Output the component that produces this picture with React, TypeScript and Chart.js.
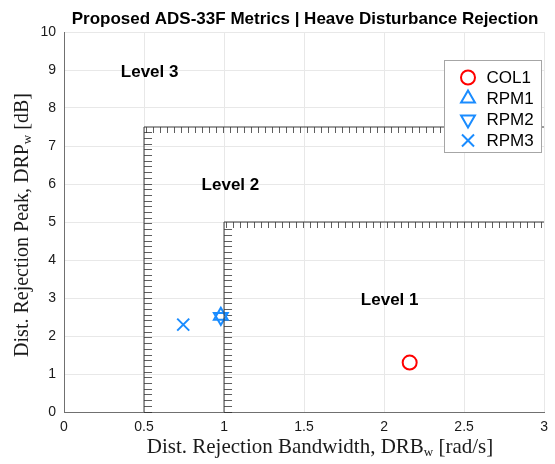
import { useEffect, useRef } from 'react';
import { Chart, registerables } from 'chart.js';

Chart.register(...registerables);

// ---- data ----
const titleText = 'Proposed ADS-33F Metrics | Heave Disturbance Rejection';
const xTitleMain = 'Dist. Rejection Bandwidth, DRB';
const xTitleSub = 'w';
const xTitleTail = ' [rad/s]';
const yTitleMain = 'Dist. Rejection Peak, DRP';
const yTitleSub = 'w';
const yTitleTail = ' [dB]';

const xMin = 0;
const xMax = 3;
const xStep = 0.5;
const yMin = 0;
const yMax = 10;
const yStep = 1;

const seriesNames = ['COL1', 'RPM1', 'RPM2', 'RPM3'];
const seriesX = [2.16, 0.98, 0.98, 0.745];
const seriesY = [1.3, 2.53, 2.5, 2.3];
const seriesColors = ['#ff0000', '#1a8cff', '#1a8cff', '#1a8cff'];
const seriesStyles = ['circle', 'triangle', 'triangle', 'crossRot'];
const seriesRotation = [0, 0, 180, 0];
const seriesRadius = [7, 8, 8, 8.5];

// Level boundaries (data coords)
const level2BoundX = [0.5, 0.5, 3];
const level2BoundY = [0, 7.5, 7.5];
const level1BoundX = [1, 1, 3];
const level1BoundY = [0, 5, 5];

const levelLabels = ['Level 3', 'Level 2', 'Level 1'];
const levelLabelX = [0.535, 1.04, 2.035];
const levelLabelY = [8.95, 5.97, 2.95];

const W = 555;
const H = 464;

function drawMarker(ctx: CanvasRenderingContext2D, style: string, x: number, y: number, r: number, rot: number) {
  ctx.beginPath();
  if (style === 'circle') {
    ctx.arc(x, y, r, 0, Math.PI * 2);
  } else if (style === 'triangle') {
    let rad = (rot * Math.PI) / 180;
    ctx.moveTo(x + Math.sin(rad) * r, y - Math.cos(rad) * r);
    rad += (2 * Math.PI) / 3;
    ctx.lineTo(x + Math.sin(rad) * r, y - Math.cos(rad) * r);
    rad += (2 * Math.PI) / 3;
    ctx.lineTo(x + Math.sin(rad) * r, y - Math.cos(rad) * r);
    ctx.closePath();
  } else if (style === 'crossRot') {
    const o = Math.cos(Math.PI / 4) * r;
    ctx.moveTo(x - o, y - o);
    ctx.lineTo(x + o, y + o);
    ctx.moveTo(x - o, y + o);
    ctx.lineTo(x + o, y - o);
  }
  ctx.stroke();
}

function drawSubText(
  ctx: CanvasRenderingContext2D,
  main: string,
  sub: string,
  tail: string,
  font: string,
  subFont: string,
  cx: number,
  cy: number,
) {
  ctx.font = font;
  const w1 = ctx.measureText(main).width;
  const w3 = ctx.measureText(tail).width;
  ctx.font = subFont;
  const w2 = ctx.measureText(sub).width;
  const total = w1 + w2 + w3;
  let x = cx - total / 2;
  ctx.textAlign = 'left';
  ctx.textBaseline = 'alphabetic';
  const base = cy + 6;
  ctx.font = font;
  ctx.fillText(main, x, base);
  x += w1;
  ctx.font = subFont;
  ctx.fillText(sub, x, base + 3);
  x += w2;
  ctx.font = font;
  ctx.fillText(tail, x, base);
}

const overlayPlugin = {
  id: 'overlay',
  beforeDatasetsDraw(chart: any) {
    const ctx: CanvasRenderingContext2D = chart.ctx;
    const xs = chart.scales.x;
    const ys = chart.scales.y;
    ctx.save();
    ctx.strokeStyle = 'rgba(40,40,40,0.75)';
    ctx.lineWidth = 1;
    const bounds = [
      [level2BoundX, level2BoundY],
      [level1BoundX, level1BoundY],
    ];
    for (const [bx, by] of bounds) {
      const px = xs.getPixelForValue(bx[0]);
      const pyBottom = ys.getPixelForValue(by[0]);
      const pyTop = ys.getPixelForValue(by[1]);
      const pxRight = xs.getPixelForValue(bx[2]);
      ctx.beginPath();
      for (let y = pyBottom - 0.5; y > pyTop + 2; y -= 5.7) {
        ctx.moveTo(px, Math.round(y) + 0.5);
        ctx.lineTo(px + 8, Math.round(y) + 0.5);
      }
      for (let x = px + 2; x < pxRight; x += 7) {
        ctx.moveTo(Math.round(x) + 0.5, pyTop);
        ctx.lineTo(Math.round(x) + 0.5, pyTop + 6);
      }
      ctx.stroke();
    }
    ctx.restore();
  },
  afterDraw(chart: any) {
    const ctx: CanvasRenderingContext2D = chart.ctx;
    const xs = chart.scales.x;
    const ys = chart.scales.y;
    const area = chart.chartArea;
    ctx.save();
    ctx.fillStyle = '#000';
    ctx.font = 'bold 17px "Liberation Sans", Arial, sans-serif';
    ctx.textAlign = 'center';
    ctx.textBaseline = 'middle';
    ctx.fillText(titleText, (area.left + area.right) / 2 + 1, 19);

    ctx.font = 'bold 17px "Liberation Sans", Arial, sans-serif';
    for (let i = 0; i < levelLabels.length; i++) {
      ctx.fillText(levelLabels[i], xs.getPixelForValue(levelLabelX[i]), ys.getPixelForValue(levelLabelY[i]));
    }

    ctx.fillStyle = '#1a1a1a';
    const xf = '21px "Liberation Serif", "Times New Roman", serif';
    const xsf = '13px "Liberation Serif", "Times New Roman", serif';
    const yf = '20px "Liberation Serif", "Times New Roman", serif';
    const ysf = '13px "Liberation Serif", "Times New Roman", serif';
    drawSubText(ctx, xTitleMain, xTitleSub, xTitleTail, xf, xsf, 320, 447);
    ctx.save();
    ctx.translate(22, 225);
    ctx.rotate(-Math.PI / 2);
    drawSubText(ctx, yTitleMain, yTitleSub, yTitleTail, yf, ysf, 0, 0);
    ctx.restore();

    const lx = 444.5;
    const ly = 60.5;
    const lw = 97;
    const lh = 92;
    ctx.fillStyle = '#ffffff';
    ctx.fillRect(lx, ly, lw, lh);
    ctx.strokeStyle = '#a6a6a6';
    ctx.lineWidth = 1;
    ctx.strokeRect(lx, ly, lw, lh);
    ctx.font = '17px "Liberation Sans", Arial, sans-serif';
    ctx.textAlign = 'left';
    ctx.textBaseline = 'middle';
    for (let i = 0; i < seriesNames.length; i++) {
      const cy = ly + 17 + i * 21;
      ctx.strokeStyle = seriesColors[i];
      ctx.lineWidth = 2;
      drawMarker(ctx, seriesStyles[i], lx + 23.5, cy, seriesRadius[i], seriesRotation[i]);
      ctx.fillStyle = '#000';
      ctx.fillText(seriesNames[i], lx + 42, cy + 1);
    }
    ctx.restore();
  },
};

export default function App() {
  const ref = useRef<HTMLCanvasElement | null>(null);
  useEffect(() => {
    document.body.style.margin = '0';
    document.body.style.overflow = 'hidden';
    const canvas = ref.current;
    if (!canvas) return;
    const boundaryDatasets = [
      [level2BoundX, level2BoundY],
      [level1BoundX, level1BoundY],
    ].map(([bx, by], k) => ({
      label: 'boundary' + k,
      data: bx.map((v, i) => ({ x: v, y: by[i] })),
      showLine: true,
      pointRadius: 0,
      borderColor: '#3a3a3a',
      borderWidth: 1,
      fill: false,
    }));
    const pointDatasets = seriesNames.map((name, i) => ({
      label: name,
      data: [{ x: seriesX[i], y: seriesY[i] }],
      pointStyle: seriesStyles[i],
      rotation: seriesRotation[i],
      pointRadius: seriesRadius[i],
      pointBorderWidth: 2,
      borderWidth: 2,
      borderColor: seriesColors[i],
      backgroundColor: 'rgba(0,0,0,0)',
      pointBackgroundColor: 'rgba(0,0,0,0)',
      showLine: false,
    }));
    const chart = new Chart(canvas, {
      type: 'scatter',
      data: { datasets: [...boundaryDatasets, ...pointDatasets] as any },
      plugins: [overlayPlugin as any],
      options: {
        animation: false,
        responsive: false,
        events: [],
        layout: { padding: { left: 0, top: 32, right: 9, bottom: 0 } },
        plugins: { legend: { display: false }, tooltip: { enabled: false }, title: { display: false } },
        scales: {
          x: {
            type: 'linear',
            min: xMin,
            max: xMax,
            afterFit: (s: any) => {
              s.height = 52;
            },
            ticks: {
              stepSize: xStep,
              padding: 7,
              color: '#1a1a1a',
              font: { family: '"Liberation Sans", Arial, sans-serif', size: 14 },
              callback: (v: any) => String(v),
            },
            grid: { color: '#e8e8e8', drawTicks: false },
            border: { display: true, color: '#707070' },
          },
          y: {
            type: 'linear',
            min: yMin,
            max: yMax,
            afterFit: (s: any) => {
              s.width = 64;
            },
            ticks: {
              stepSize: yStep,
              padding: 8,
              color: '#1a1a1a',
              font: { family: '"Liberation Sans", Arial, sans-serif', size: 14 },
              callback: (v: any) => String(v),
            },
            grid: { color: '#e8e8e8', drawTicks: false },
            border: { display: true, color: '#707070' },
          },
        },
      },
    });
    return () => chart.destroy();
  }, []);
  return <canvas ref={ref} width={W} height={H} style={{ display: 'block', width: W, height: H }} />;
}
